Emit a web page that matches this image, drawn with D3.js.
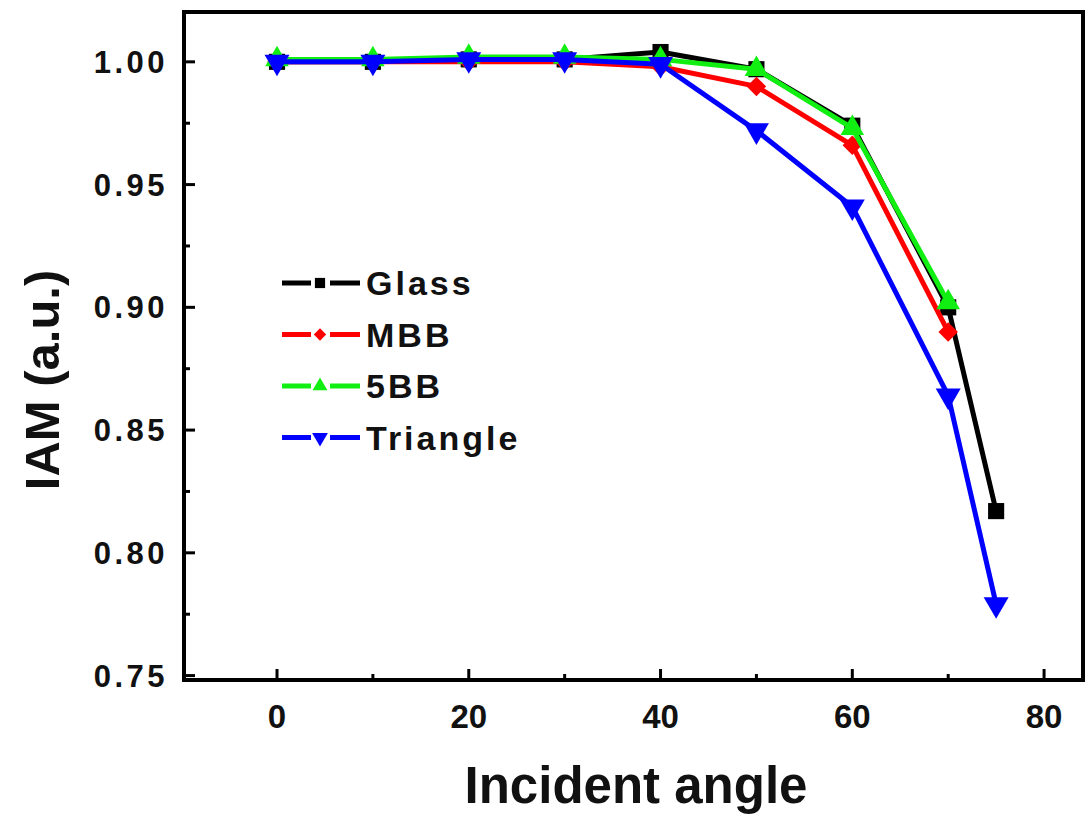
<!DOCTYPE html>
<meta charset="utf-8">
<style>
body { margin: 0; background: #fff; }
text { font-family: "Liberation Sans", Arial, sans-serif; font-weight: bold; fill: #111; }
.frame { fill: none; stroke: #000; stroke-width: 4; }
.tick-line { stroke: #000; stroke-width: 3; }
</style>
<body>
<svg width="1086" height="815"></svg>
<script src="https://cdn.jsdelivr.net/npm/d3@7"></script>
<script>

// data
var angles = [0, 10, 20, 30, 40, 50, 60, 70, 75];
var glass    = [1.000, 1.000, 1.001, 1.001, 1.004, 0.997, 0.974, 0.900, 0.817];
var mbb      = [1.000, 1.000, 1.000, 1.000, 0.998, 0.990, 0.966, 0.890];
var fiveBB   = [1.001, 1.001, 1.002, 1.002, 1.001, 0.997, 0.973, 0.902];
var triangle = [1.000, 1.000, 1.001, 1.001, 0.999, 0.972, 0.941, 0.864, 0.779];

var seriesNames = ["Glass", "MBB", "5BB", "Triangle"];
var seriesColors = ["#000000", "#ff0000", "#11ee11", "#0000ff"];
var xTicks = [0, 20, 40, 60, 80];
var xMinor = [10, 30, 50, 70];
var yTicks = [0.75, 0.80, 0.85, 0.90, 0.95, 1.00];
var yMinor = [0.775, 0.825, 0.875, 0.925, 0.975];

var svg = d3.select("svg");
var plotLeft = 184, plotRight = 1083, plotTop = 12, plotBottom = 680;

var x = d3.scaleLinear().domain([-9.7, 84.06]).range([plotLeft, plotRight]);
var y = d3.scaleLinear().domain([0.7482, 1.0203]).range([plotBottom, plotTop]);

var series = [glass, mbb, fiveBB, triangle].map(function(vals, i) {
  return {
    name: seriesNames[i],
    color: seriesColors[i],
    points: vals.map(function(v, j) { return [angles[j], v]; })
  };
});

// markers per series
function marker(i) {
  if (i == 0) return { type: d3.symbolSquare, size: 260, rot: 0 };
  if (i == 1) return { type: d3.symbolSquare, size: 190, rot: 45 };
  if (i == 2) return { type: d3.symbolTriangle, size: 240, rot: 0 };
  return { type: d3.symbolTriangle, size: 270, rot: 180 };
}

var line = d3.line()
    .x(function(d) { return x(d[0]); })
    .y(function(d) { return y(d[1]); });

var plot = svg.append("g");

series.forEach(function(s, i) {
  plot.append("path")
      .datum(s.points)
      .attr("fill", "none")
      .attr("stroke", s.color)
      .attr("stroke-width", 5)
      .attr("stroke-linejoin", "round")
      .attr("d", line);
  var m = marker(i);
  plot.selectAll(".m" + i)
    .data(s.points)
    .enter().append("path")
      .attr("class", "m" + i)
      .attr("fill", s.color)
      .attr("transform", function(d) { return "translate(" + x(d[0]) + "," + y(d[1]) + ") rotate(" + m.rot + ")"; })
      .attr("d", d3.symbol().type(m.type).size(m.size));
});

// frame
svg.append("rect")
    .attr("class", "frame")
    .attr("x", plotLeft).attr("y", plotTop)
    .attr("width", plotRight - plotLeft).attr("height", plotBottom - plotTop);

// ticks, pointing inward
svg.selectAll(".xt")
  .data(xTicks.map(function(d) { return [d, 11]; }).concat(xMinor.map(function(d) { return [d, 6]; })))
  .enter().append("line")
    .attr("class", "tick-line")
    .attr("x1", function(d) { return x(d[0]); })
    .attr("x2", function(d) { return x(d[0]); })
    .attr("y1", plotBottom)
    .attr("y2", function(d) { return plotBottom - d[1]; });

svg.selectAll(".yt")
  .data(yTicks.map(function(d) { return [d, 11]; }).concat(yMinor.map(function(d) { return [d, 6]; })))
  .enter().append("line")
    .attr("class", "tick-line")
    .attr("y1", function(d) { return y(d[0]); })
    .attr("y2", function(d) { return y(d[0]); })
    .attr("x1", plotLeft)
    .attr("x2", function(d) { return plotLeft + d[1]; });

svg.selectAll(".xl")
  .data(xTicks)
  .enter().append("text")
    .attr("x", function(d) { return x(d); })
    .attr("y", plotBottom + 48)
    .attr("text-anchor", "middle")
    .attr("font-size", 33)
    .text(function(d) { return d; });

svg.selectAll(".yl")
  .data(yTicks)
  .enter().append("text")
    .attr("x", 168)
    .attr("y", function(d) { return y(d) + 11; })
    .attr("text-anchor", "end")
    .attr("font-size", 31)
    .attr("letter-spacing", 3.5)
    .text(function(d) { return d3.format(".2f")(d); });

svg.append("text")
    .attr("x", 636)
    .attr("y", 803)
    .attr("text-anchor", "middle")
    .attr("font-size", 51)
    .text("Incident angle");

svg.append("text")
    .attr("transform", "translate(59,380) rotate(-90)")
    .attr("text-anchor", "middle")
    .attr("font-size", 49)
    .text("IAM (a.u.)");

// legend
var legend = svg.append("g");
series.forEach(function(s, i) {
  var ly = 283 + i * 51.5;
  var g = legend.append("g");
  g.append("line")
      .attr("x1", 282).attr("x2", 311).attr("y1", ly).attr("y2", ly)
      .attr("stroke", s.color).attr("stroke-width", 5);
  g.append("line")
      .attr("x1", 330).attr("x2", 360).attr("y1", ly).attr("y2", ly)
      .attr("stroke", s.color).attr("stroke-width", 5);
  var m = marker(i);
  g.append("path")
      .attr("fill", s.color)
      .attr("transform", "translate(320," + ly + ") rotate(" + m.rot + ")")
      .attr("d", d3.symbol().type(m.type).size(m.size * 0.4));
  g.append("text")
      .attr("x", 366)
      .attr("y", ly + 12)
      .attr("font-size", 34)
      .attr("letter-spacing", 3)
      .text(s.name);
});

</script>
</body>
